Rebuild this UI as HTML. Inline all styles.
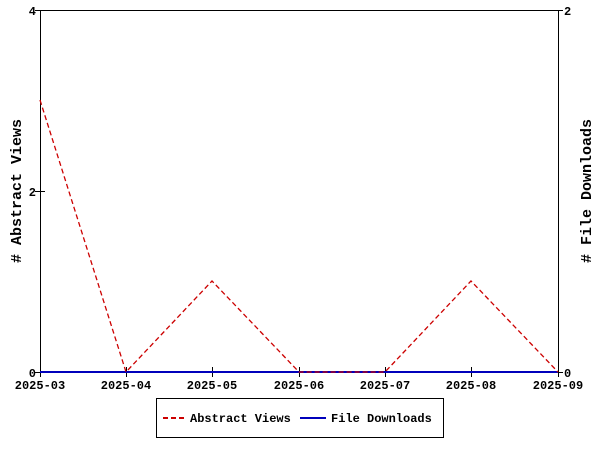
<!DOCTYPE html>
<html><head><style>body{margin:0;background:#fff}svg{display:block}text{font-family:"Liberation Mono","DejaVu Sans Mono",monospace;font-weight:bold;font-size:12px;fill:#000}</style></head>
<body>
<svg width="600" height="450" viewBox="0 0 600 450">
<rect x="40.5" y="10.5" width="518" height="362" fill="none" stroke="#000" stroke-width="1"/>
<g stroke="#000" stroke-width="1">
<line x1="40.5" y1="367" x2="40.5" y2="377"/>
<line x1="126.5" y1="367" x2="126.5" y2="377"/>
<line x1="212.5" y1="367" x2="212.5" y2="377"/>
<line x1="299.5" y1="367" x2="299.5" y2="377"/>
<line x1="385.5" y1="367" x2="385.5" y2="377"/>
<line x1="471.5" y1="367" x2="471.5" y2="377"/>
<line x1="558.5" y1="367" x2="558.5" y2="377"/>
<line x1="35" y1="10.5" x2="45" y2="10.5"/>
<line x1="35" y1="191.5" x2="45" y2="191.5"/>
<line x1="35" y1="372.5" x2="45" y2="372.5"/>
<line x1="553" y1="10.5" x2="563" y2="10.5"/>
<line x1="553" y1="372.5" x2="563" y2="372.5"/>
</g>
<g text-anchor="end">
<text x="36" y="15">4</text><text x="36" y="196">2</text><text x="36" y="377">0</text>
</g>
<text x="564" y="15">2</text><text x="564" y="377">0</text>
<g text-anchor="middle">
<text x="40" y="389">2025-03</text><text x="126" y="389">2025-04</text><text x="212" y="389">2025-05</text><text x="299" y="389">2025-06</text><text x="385" y="389">2025-07</text><text x="471" y="389">2025-08</text><text x="558" y="389">2025-09</text>
<text transform="translate(21,191) rotate(-90)" style="font-size:15px"># Abstract Views</text>
<text transform="translate(591,191) rotate(-90)" style="font-size:15px"># File Downloads</text>
</g>
<line x1="40" y1="372" x2="558" y2="372" stroke="#0000bb" stroke-width="2"/>
<polyline points="40,100 126,372 212,281 299,372 385,372 471,281 558,372" fill="none" stroke="#cc0000" stroke-width="1.3" stroke-dasharray="5,3"/>
<rect x="156.5" y="398.5" width="287" height="39" fill="#fff" stroke="#000"/>
<line x1="163" y1="418" x2="184" y2="418" stroke="#cc0000" stroke-width="2" stroke-dasharray="5,3"/>
<text x="190" y="422">Abstract Views</text>
<line x1="300" y1="418" x2="326" y2="418" stroke="#0000bb" stroke-width="2"/>
<text x="331" y="422">File Downloads</text>
</svg>
</body></html>
